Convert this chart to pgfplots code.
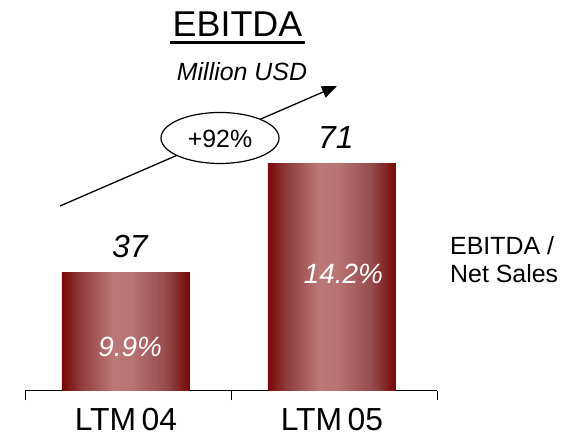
\documentclass[border=0pt]{standalone}
\usepackage{pgfplots}
\pgfplotsset{compat=1.18}
\usepackage{fontspec}
\setmainfont{Liberation Sans}
\usetikzlibrary{arrows.meta}

\definecolor{bardark}{RGB}{120,8,8}
\definecolor{barmid}{RGB}{142,58,58}
\definecolor{barlight}{RGB}{188,120,118}
\definecolor{barlight2}{RGB}{184,116,114}
\definecolor{barmid2}{RGB}{150,78,78}
\pgfdeclarehorizontalshading{barshade}{100bp}{%
  color(0bp)=(bardark); color(25bp)=(bardark); color(32bp)=(barmid);
  color(45bp)=(barlight); color(52bp)=(barlight2); color(65bp)=(barmid2);
  color(75bp)=(bardark); color(100bp)=(bardark)}

\newcommand{\fs}[1]{\fontsize{#1}{#1}\selectfont}

\begin{document}
\begin{tikzpicture}[x=1bp,y=1bp]
  \path[use as bounding box] (0,0) rectangle (567,438);

  \begin{axis}[
    at={(25bp,47bp)}, anchor=south west,
    scale only axis,
    width=412bp, height=256.8bp,
    xmin=-0.49, xmax=1.51,
    ymin=0, ymax=80,
    axis x line*=bottom,
    axis y line=none,
    axis line style={line width=1bp, black},
    xtick={0,1},
    xticklabels={LTM\,04, LTM\,05},
    major tick length=0pt,
    xticklabel style={font=\fs{32}, anchor=base, inner sep=0pt, yshift=-39.5bp},
    extra x ticks={-0.49,0.51,1.51},
    extra x tick labels={},
    extra x tick style={major tick length=9.5bp, tick align=outside,
      tick style={line width=1bp, black}},
    ytick=\empty,
    clip=false,
    ybar, bar width=128bp, bar shift=0pt,
    nodes near coords={\pgfmathprintnumber[assume math mode=true]{\pgfplotspointmeta}},
    nodes near coords style={font=\itshape\fs{32}, anchor=base,
      inner sep=0pt, yshift=15bp, xshift=4bp, black},
  ]
    \addplot[draw=none, shading=barshade] coordinates {(0,37)};
    \addplot[draw=none, shading=barshade] coordinates {(1,71)};

    \node[anchor=base, white, font=\itshape\fs{28}, inner sep=0pt]
      at (axis cs:0.02,10.6) {9.9\%};
    \node[anchor=base, white, font=\itshape\fs{28}, inner sep=0pt]
      at (axis cs:1.056,33.6) {14.2\%};
  \end{axis}

  % title and subtitle
  \node[anchor=base, inner sep=0pt, font=\fs{36}] at (237.5,401) {EBITDA};
  \draw[line width=2.5bp] (170,395.5) -- (305,395.5);
  \node[anchor=base, inner sep=0pt, font=\itshape\fs{25}] at (242,357) {Million USD};

  % growth arrow
  \draw[line width=1.3bp, -{Triangle[length=15bp,width=12bp]}] (60,232) -- (337,352);
  \draw[line width=1.2bp, fill=white] (220,300) ellipse [x radius=59, y radius=25.5];
  \node[anchor=base, inner sep=0pt, font=\fs{25}] at (220,290) {+92\%};

  % side note
  \node[anchor=base west, inner sep=0pt, font=\fs{25}] at (450,183) {EBITDA /};
  \node[anchor=base west, inner sep=0pt, font=\fs{25}] at (450,155) {Net Sales};
\end{tikzpicture}
\end{document}
